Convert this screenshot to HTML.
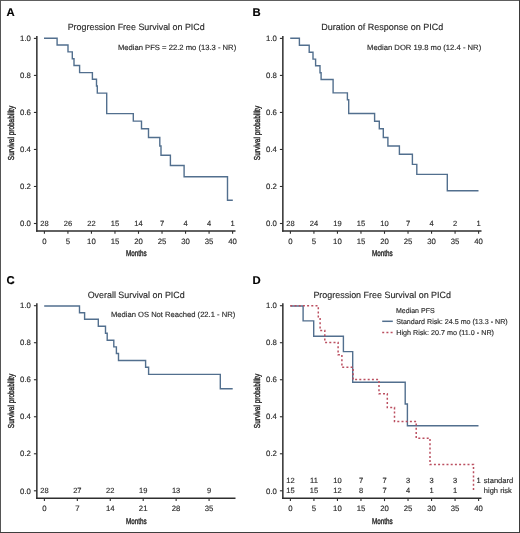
<!DOCTYPE html>
<html><head><meta charset="utf-8"><style>
html,body{margin:0;padding:0;background:#fff;}
body{width:520px;height:533px;overflow:hidden;}
svg{display:block;font-family:"Liberation Sans", sans-serif;will-change:transform;text-rendering:geometricPrecision;}
</style></head><body>
<svg width="520" height="533" viewBox="0 0 520 533">
<rect x="0" y="0" width="520" height="533" fill="#fff"/>
<text x="6.6" y="16.2" font-size="11.3" text-anchor="start" fill="#000" font-weight="bold" stroke="#000" stroke-width="0.15">A</text>
<text x="136.2" y="30.2" font-size="9.1" text-anchor="middle" fill="#2b2b2b" font-weight="normal" stroke="#2b2b2b" stroke-width="0.15" textLength="137" lengthAdjust="spacingAndGlyphs">Progression Free Survival on PICd</text>
<line x1="36.85" y1="36" x2="36.85" y2="231.7" stroke="#2e2e2e" stroke-width="1.5"/>
<line x1="36.1" y1="231" x2="235.5" y2="231" stroke="#2e2e2e" stroke-width="1.5"/>
<line x1="33.9" y1="38.4" x2="36.85" y2="38.4" stroke="#2e2e2e" stroke-width="1.1"/>
<text x="30.9" y="41.1" font-size="7.8" text-anchor="end" fill="#2b2b2b" font-weight="normal" stroke="#2b2b2b" stroke-width="0.15">1.0</text>
<line x1="33.9" y1="75.42" x2="36.85" y2="75.42" stroke="#2e2e2e" stroke-width="1.1"/>
<text x="30.9" y="78.12" font-size="7.8" text-anchor="end" fill="#2b2b2b" font-weight="normal" stroke="#2b2b2b" stroke-width="0.15">0.8</text>
<line x1="33.9" y1="112.44" x2="36.85" y2="112.44" stroke="#2e2e2e" stroke-width="1.1"/>
<text x="30.9" y="115.14" font-size="7.8" text-anchor="end" fill="#2b2b2b" font-weight="normal" stroke="#2b2b2b" stroke-width="0.15">0.6</text>
<line x1="33.9" y1="149.46" x2="36.85" y2="149.46" stroke="#2e2e2e" stroke-width="1.1"/>
<text x="30.9" y="152.16" font-size="7.8" text-anchor="end" fill="#2b2b2b" font-weight="normal" stroke="#2b2b2b" stroke-width="0.15">0.4</text>
<line x1="33.9" y1="186.48000000000002" x2="36.85" y2="186.48000000000002" stroke="#2e2e2e" stroke-width="1.1"/>
<text x="30.9" y="189.18" font-size="7.8" text-anchor="end" fill="#2b2b2b" font-weight="normal" stroke="#2b2b2b" stroke-width="0.15">0.2</text>
<line x1="33.9" y1="223.50000000000003" x2="36.85" y2="223.50000000000003" stroke="#2e2e2e" stroke-width="1.1"/>
<text x="30.9" y="226.20000000000002" font-size="7.8" text-anchor="end" fill="#2b2b2b" font-weight="normal" stroke="#2b2b2b" stroke-width="0.15">0.0</text>
<line x1="44.4" y1="231" x2="44.4" y2="233.8" stroke="#2e2e2e" stroke-width="1.1"/>
<text x="44.4" y="243.9" font-size="7.8" text-anchor="middle" fill="#2b2b2b" font-weight="normal" stroke="#2b2b2b" stroke-width="0.15">0</text>
<line x1="67.925" y1="231" x2="67.925" y2="233.8" stroke="#2e2e2e" stroke-width="1.1"/>
<text x="67.925" y="243.9" font-size="7.8" text-anchor="middle" fill="#2b2b2b" font-weight="normal" stroke="#2b2b2b" stroke-width="0.15">5</text>
<line x1="91.44999999999999" y1="231" x2="91.44999999999999" y2="233.8" stroke="#2e2e2e" stroke-width="1.1"/>
<text x="91.44999999999999" y="243.9" font-size="7.8" text-anchor="middle" fill="#2b2b2b" font-weight="normal" stroke="#2b2b2b" stroke-width="0.15">10</text>
<line x1="114.975" y1="231" x2="114.975" y2="233.8" stroke="#2e2e2e" stroke-width="1.1"/>
<text x="114.975" y="243.9" font-size="7.8" text-anchor="middle" fill="#2b2b2b" font-weight="normal" stroke="#2b2b2b" stroke-width="0.15">15</text>
<line x1="138.5" y1="231" x2="138.5" y2="233.8" stroke="#2e2e2e" stroke-width="1.1"/>
<text x="138.5" y="243.9" font-size="7.8" text-anchor="middle" fill="#2b2b2b" font-weight="normal" stroke="#2b2b2b" stroke-width="0.15">20</text>
<line x1="162.025" y1="231" x2="162.025" y2="233.8" stroke="#2e2e2e" stroke-width="1.1"/>
<text x="162.025" y="243.9" font-size="7.8" text-anchor="middle" fill="#2b2b2b" font-weight="normal" stroke="#2b2b2b" stroke-width="0.15">25</text>
<line x1="185.55" y1="231" x2="185.55" y2="233.8" stroke="#2e2e2e" stroke-width="1.1"/>
<text x="185.55" y="243.9" font-size="7.8" text-anchor="middle" fill="#2b2b2b" font-weight="normal" stroke="#2b2b2b" stroke-width="0.15">30</text>
<line x1="209.07500000000002" y1="231" x2="209.07500000000002" y2="233.8" stroke="#2e2e2e" stroke-width="1.1"/>
<text x="209.07500000000002" y="243.9" font-size="7.8" text-anchor="middle" fill="#2b2b2b" font-weight="normal" stroke="#2b2b2b" stroke-width="0.15">35</text>
<line x1="232.6" y1="231" x2="232.6" y2="233.8" stroke="#2e2e2e" stroke-width="1.1"/>
<text x="232.6" y="243.9" font-size="7.8" text-anchor="middle" fill="#2b2b2b" font-weight="normal" stroke="#2b2b2b" stroke-width="0.15">40</text>
<text x="44.4" y="225.8" font-size="7.5" text-anchor="middle" fill="#2b2b2b" font-weight="normal" stroke="#2b2b2b" stroke-width="0.15">28</text>
<text x="67.925" y="225.8" font-size="7.5" text-anchor="middle" fill="#2b2b2b" font-weight="normal" stroke="#2b2b2b" stroke-width="0.15">26</text>
<text x="91.44999999999999" y="225.8" font-size="7.5" text-anchor="middle" fill="#2b2b2b" font-weight="normal" stroke="#2b2b2b" stroke-width="0.15">22</text>
<text x="114.975" y="225.8" font-size="7.5" text-anchor="middle" fill="#2b2b2b" font-weight="normal" stroke="#2b2b2b" stroke-width="0.15">15</text>
<text x="138.5" y="225.8" font-size="7.5" text-anchor="middle" fill="#2b2b2b" font-weight="normal" stroke="#2b2b2b" stroke-width="0.15">14</text>
<text x="162.025" y="225.8" font-size="7.5" text-anchor="middle" fill="#2b2b2b" font-weight="normal" stroke="#2b2b2b" stroke-width="0.15">7</text>
<text x="185.55" y="225.8" font-size="7.5" text-anchor="middle" fill="#2b2b2b" font-weight="normal" stroke="#2b2b2b" stroke-width="0.15">4</text>
<text x="209.07500000000002" y="225.8" font-size="7.5" text-anchor="middle" fill="#2b2b2b" font-weight="normal" stroke="#2b2b2b" stroke-width="0.15">4</text>
<text x="232.6" y="225.8" font-size="7.5" text-anchor="middle" fill="#2b2b2b" font-weight="normal" stroke="#2b2b2b" stroke-width="0.15">1</text>
<text x="136.4" y="256.2" font-size="8.4" text-anchor="middle" fill="#2b2b2b" font-weight="normal" textLength="20.6" lengthAdjust="spacingAndGlyphs" stroke="#2b2b2b" stroke-width="0.4">Months</text>
<text x="0" y="0" font-size="8.6" text-anchor="middle" fill="#2b2b2b" stroke="#2b2b2b" stroke-width="0.42" textLength="54.3" lengthAdjust="spacingAndGlyphs" transform="translate(13.899999999999999,133.0) rotate(-90)">Survival probability</text>
<text x="252.6" y="16.2" font-size="11.3" text-anchor="start" fill="#000" font-weight="bold" stroke="#000" stroke-width="0.15">B</text>
<text x="382.2" y="30.2" font-size="9.1" text-anchor="middle" fill="#2b2b2b" font-weight="normal" stroke="#2b2b2b" stroke-width="0.15" textLength="122" lengthAdjust="spacingAndGlyphs">Duration of Response on PICd</text>
<line x1="282.85" y1="36" x2="282.85" y2="231.7" stroke="#2e2e2e" stroke-width="1.5"/>
<line x1="282.1" y1="231" x2="481.5" y2="231" stroke="#2e2e2e" stroke-width="1.5"/>
<line x1="279.9" y1="38.4" x2="282.85" y2="38.4" stroke="#2e2e2e" stroke-width="1.1"/>
<text x="276.9" y="41.1" font-size="7.8" text-anchor="end" fill="#2b2b2b" font-weight="normal" stroke="#2b2b2b" stroke-width="0.15">1.0</text>
<line x1="279.9" y1="75.42" x2="282.85" y2="75.42" stroke="#2e2e2e" stroke-width="1.1"/>
<text x="276.9" y="78.12" font-size="7.8" text-anchor="end" fill="#2b2b2b" font-weight="normal" stroke="#2b2b2b" stroke-width="0.15">0.8</text>
<line x1="279.9" y1="112.44" x2="282.85" y2="112.44" stroke="#2e2e2e" stroke-width="1.1"/>
<text x="276.9" y="115.14" font-size="7.8" text-anchor="end" fill="#2b2b2b" font-weight="normal" stroke="#2b2b2b" stroke-width="0.15">0.6</text>
<line x1="279.9" y1="149.46" x2="282.85" y2="149.46" stroke="#2e2e2e" stroke-width="1.1"/>
<text x="276.9" y="152.16" font-size="7.8" text-anchor="end" fill="#2b2b2b" font-weight="normal" stroke="#2b2b2b" stroke-width="0.15">0.4</text>
<line x1="279.9" y1="186.48000000000002" x2="282.85" y2="186.48000000000002" stroke="#2e2e2e" stroke-width="1.1"/>
<text x="276.9" y="189.18" font-size="7.8" text-anchor="end" fill="#2b2b2b" font-weight="normal" stroke="#2b2b2b" stroke-width="0.15">0.2</text>
<line x1="279.9" y1="223.50000000000003" x2="282.85" y2="223.50000000000003" stroke="#2e2e2e" stroke-width="1.1"/>
<text x="276.9" y="226.20000000000002" font-size="7.8" text-anchor="end" fill="#2b2b2b" font-weight="normal" stroke="#2b2b2b" stroke-width="0.15">0.0</text>
<line x1="290.4" y1="231" x2="290.4" y2="233.8" stroke="#2e2e2e" stroke-width="1.1"/>
<text x="290.4" y="243.9" font-size="7.8" text-anchor="middle" fill="#2b2b2b" font-weight="normal" stroke="#2b2b2b" stroke-width="0.15">0</text>
<line x1="313.925" y1="231" x2="313.925" y2="233.8" stroke="#2e2e2e" stroke-width="1.1"/>
<text x="313.925" y="243.9" font-size="7.8" text-anchor="middle" fill="#2b2b2b" font-weight="normal" stroke="#2b2b2b" stroke-width="0.15">5</text>
<line x1="337.45" y1="231" x2="337.45" y2="233.8" stroke="#2e2e2e" stroke-width="1.1"/>
<text x="337.45" y="243.9" font-size="7.8" text-anchor="middle" fill="#2b2b2b" font-weight="normal" stroke="#2b2b2b" stroke-width="0.15">10</text>
<line x1="360.975" y1="231" x2="360.975" y2="233.8" stroke="#2e2e2e" stroke-width="1.1"/>
<text x="360.975" y="243.9" font-size="7.8" text-anchor="middle" fill="#2b2b2b" font-weight="normal" stroke="#2b2b2b" stroke-width="0.15">15</text>
<line x1="384.5" y1="231" x2="384.5" y2="233.8" stroke="#2e2e2e" stroke-width="1.1"/>
<text x="384.5" y="243.9" font-size="7.8" text-anchor="middle" fill="#2b2b2b" font-weight="normal" stroke="#2b2b2b" stroke-width="0.15">20</text>
<line x1="408.025" y1="231" x2="408.025" y2="233.8" stroke="#2e2e2e" stroke-width="1.1"/>
<text x="408.025" y="243.9" font-size="7.8" text-anchor="middle" fill="#2b2b2b" font-weight="normal" stroke="#2b2b2b" stroke-width="0.15">25</text>
<line x1="431.55" y1="231" x2="431.55" y2="233.8" stroke="#2e2e2e" stroke-width="1.1"/>
<text x="431.55" y="243.9" font-size="7.8" text-anchor="middle" fill="#2b2b2b" font-weight="normal" stroke="#2b2b2b" stroke-width="0.15">30</text>
<line x1="455.07500000000005" y1="231" x2="455.07500000000005" y2="233.8" stroke="#2e2e2e" stroke-width="1.1"/>
<text x="455.07500000000005" y="243.9" font-size="7.8" text-anchor="middle" fill="#2b2b2b" font-weight="normal" stroke="#2b2b2b" stroke-width="0.15">35</text>
<line x1="478.6" y1="231" x2="478.6" y2="233.8" stroke="#2e2e2e" stroke-width="1.1"/>
<text x="478.6" y="243.9" font-size="7.8" text-anchor="middle" fill="#2b2b2b" font-weight="normal" stroke="#2b2b2b" stroke-width="0.15">40</text>
<text x="290.4" y="225.8" font-size="7.5" text-anchor="middle" fill="#2b2b2b" font-weight="normal" stroke="#2b2b2b" stroke-width="0.15">28</text>
<text x="313.925" y="225.8" font-size="7.5" text-anchor="middle" fill="#2b2b2b" font-weight="normal" stroke="#2b2b2b" stroke-width="0.15">24</text>
<text x="337.45" y="225.8" font-size="7.5" text-anchor="middle" fill="#2b2b2b" font-weight="normal" stroke="#2b2b2b" stroke-width="0.15">19</text>
<text x="360.975" y="225.8" font-size="7.5" text-anchor="middle" fill="#2b2b2b" font-weight="normal" stroke="#2b2b2b" stroke-width="0.15">15</text>
<text x="384.5" y="225.8" font-size="7.5" text-anchor="middle" fill="#2b2b2b" font-weight="normal" stroke="#2b2b2b" stroke-width="0.15">10</text>
<text x="408.025" y="225.8" font-size="7.5" text-anchor="middle" fill="#2b2b2b" font-weight="normal" stroke="#2b2b2b" stroke-width="0.15">7</text>
<text x="431.55" y="225.8" font-size="7.5" text-anchor="middle" fill="#2b2b2b" font-weight="normal" stroke="#2b2b2b" stroke-width="0.15">4</text>
<text x="455.07500000000005" y="225.8" font-size="7.5" text-anchor="middle" fill="#2b2b2b" font-weight="normal" stroke="#2b2b2b" stroke-width="0.15">2</text>
<text x="478.6" y="225.8" font-size="7.5" text-anchor="middle" fill="#2b2b2b" font-weight="normal" stroke="#2b2b2b" stroke-width="0.15">1</text>
<text x="382.4" y="256.2" font-size="8.4" text-anchor="middle" fill="#2b2b2b" font-weight="normal" textLength="20.6" lengthAdjust="spacingAndGlyphs" stroke="#2b2b2b" stroke-width="0.4">Months</text>
<text x="0" y="0" font-size="8.6" text-anchor="middle" fill="#2b2b2b" stroke="#2b2b2b" stroke-width="0.42" textLength="54.3" lengthAdjust="spacingAndGlyphs" transform="translate(259.9,133.0) rotate(-90)">Survival probability</text>
<text x="6.6" y="283.5" font-size="11.3" text-anchor="start" fill="#000" font-weight="bold" stroke="#000" stroke-width="0.15">C</text>
<text x="136.2" y="297.5" font-size="9.1" text-anchor="middle" fill="#2b2b2b" font-weight="normal" stroke="#2b2b2b" stroke-width="0.15" textLength="97" lengthAdjust="spacingAndGlyphs">Overall Survival on PICd</text>
<line x1="36.85" y1="303.3" x2="36.85" y2="499.0" stroke="#2e2e2e" stroke-width="1.5"/>
<line x1="36.1" y1="498.3" x2="235.5" y2="498.3" stroke="#2e2e2e" stroke-width="1.5"/>
<line x1="33.9" y1="305.7" x2="36.85" y2="305.7" stroke="#2e2e2e" stroke-width="1.1"/>
<text x="30.9" y="308.4" font-size="7.8" text-anchor="end" fill="#2b2b2b" font-weight="normal" stroke="#2b2b2b" stroke-width="0.15">1.0</text>
<line x1="33.9" y1="342.72" x2="36.85" y2="342.72" stroke="#2e2e2e" stroke-width="1.1"/>
<text x="30.9" y="345.42" font-size="7.8" text-anchor="end" fill="#2b2b2b" font-weight="normal" stroke="#2b2b2b" stroke-width="0.15">0.8</text>
<line x1="33.9" y1="379.74" x2="36.85" y2="379.74" stroke="#2e2e2e" stroke-width="1.1"/>
<text x="30.9" y="382.44" font-size="7.8" text-anchor="end" fill="#2b2b2b" font-weight="normal" stroke="#2b2b2b" stroke-width="0.15">0.6</text>
<line x1="33.9" y1="416.76" x2="36.85" y2="416.76" stroke="#2e2e2e" stroke-width="1.1"/>
<text x="30.9" y="419.46" font-size="7.8" text-anchor="end" fill="#2b2b2b" font-weight="normal" stroke="#2b2b2b" stroke-width="0.15">0.4</text>
<line x1="33.9" y1="453.78000000000003" x2="36.85" y2="453.78000000000003" stroke="#2e2e2e" stroke-width="1.1"/>
<text x="30.9" y="456.48" font-size="7.8" text-anchor="end" fill="#2b2b2b" font-weight="normal" stroke="#2b2b2b" stroke-width="0.15">0.2</text>
<line x1="33.9" y1="490.80000000000007" x2="36.85" y2="490.80000000000007" stroke="#2e2e2e" stroke-width="1.1"/>
<text x="30.9" y="493.50000000000006" font-size="7.8" text-anchor="end" fill="#2b2b2b" font-weight="normal" stroke="#2b2b2b" stroke-width="0.15">0.0</text>
<line x1="44.4" y1="498.3" x2="44.4" y2="501.1" stroke="#2e2e2e" stroke-width="1.1"/>
<text x="44.4" y="511.20000000000005" font-size="7.8" text-anchor="middle" fill="#2b2b2b" font-weight="normal" stroke="#2b2b2b" stroke-width="0.15">0</text>
<line x1="77.33500000000001" y1="498.3" x2="77.33500000000001" y2="501.1" stroke="#2e2e2e" stroke-width="1.1"/>
<text x="77.33500000000001" y="511.20000000000005" font-size="7.8" text-anchor="middle" fill="#2b2b2b" font-weight="normal" stroke="#2b2b2b" stroke-width="0.15">7</text>
<line x1="110.27000000000001" y1="498.3" x2="110.27000000000001" y2="501.1" stroke="#2e2e2e" stroke-width="1.1"/>
<text x="110.27000000000001" y="511.20000000000005" font-size="7.8" text-anchor="middle" fill="#2b2b2b" font-weight="normal" stroke="#2b2b2b" stroke-width="0.15">14</text>
<line x1="143.205" y1="498.3" x2="143.205" y2="501.1" stroke="#2e2e2e" stroke-width="1.1"/>
<text x="143.205" y="511.20000000000005" font-size="7.8" text-anchor="middle" fill="#2b2b2b" font-weight="normal" stroke="#2b2b2b" stroke-width="0.15">21</text>
<line x1="176.14000000000001" y1="498.3" x2="176.14000000000001" y2="501.1" stroke="#2e2e2e" stroke-width="1.1"/>
<text x="176.14000000000001" y="511.20000000000005" font-size="7.8" text-anchor="middle" fill="#2b2b2b" font-weight="normal" stroke="#2b2b2b" stroke-width="0.15">28</text>
<line x1="209.07500000000002" y1="498.3" x2="209.07500000000002" y2="501.1" stroke="#2e2e2e" stroke-width="1.1"/>
<text x="209.07500000000002" y="511.20000000000005" font-size="7.8" text-anchor="middle" fill="#2b2b2b" font-weight="normal" stroke="#2b2b2b" stroke-width="0.15">35</text>
<text x="44.4" y="493.1" font-size="7.5" text-anchor="middle" fill="#2b2b2b" font-weight="normal" stroke="#2b2b2b" stroke-width="0.15">28</text>
<text x="77.33500000000001" y="493.1" font-size="7.5" text-anchor="middle" fill="#2b2b2b" font-weight="normal" stroke="#2b2b2b" stroke-width="0.15">27</text>
<text x="110.27000000000001" y="493.1" font-size="7.5" text-anchor="middle" fill="#2b2b2b" font-weight="normal" stroke="#2b2b2b" stroke-width="0.15">22</text>
<text x="143.205" y="493.1" font-size="7.5" text-anchor="middle" fill="#2b2b2b" font-weight="normal" stroke="#2b2b2b" stroke-width="0.15">19</text>
<text x="176.14000000000001" y="493.1" font-size="7.5" text-anchor="middle" fill="#2b2b2b" font-weight="normal" stroke="#2b2b2b" stroke-width="0.15">13</text>
<text x="209.07500000000002" y="493.1" font-size="7.5" text-anchor="middle" fill="#2b2b2b" font-weight="normal" stroke="#2b2b2b" stroke-width="0.15">9</text>
<text x="136.4" y="523.5" font-size="8.4" text-anchor="middle" fill="#2b2b2b" font-weight="normal" textLength="20.6" lengthAdjust="spacingAndGlyphs" stroke="#2b2b2b" stroke-width="0.4">Months</text>
<text x="0" y="0" font-size="8.6" text-anchor="middle" fill="#2b2b2b" stroke="#2b2b2b" stroke-width="0.42" textLength="54.3" lengthAdjust="spacingAndGlyphs" transform="translate(13.899999999999999,401.0) rotate(-90)">Survival probability</text>
<text x="252.6" y="283.5" font-size="11.3" text-anchor="start" fill="#000" font-weight="bold" stroke="#000" stroke-width="0.15">D</text>
<text x="382.2" y="297.5" font-size="9.1" text-anchor="middle" fill="#2b2b2b" font-weight="normal" stroke="#2b2b2b" stroke-width="0.15" textLength="137.6" lengthAdjust="spacingAndGlyphs">Progression Free Survival on PICd</text>
<line x1="282.85" y1="303.3" x2="282.85" y2="499.0" stroke="#2e2e2e" stroke-width="1.5"/>
<line x1="282.1" y1="498.3" x2="481.5" y2="498.3" stroke="#2e2e2e" stroke-width="1.5"/>
<line x1="279.9" y1="305.7" x2="282.85" y2="305.7" stroke="#2e2e2e" stroke-width="1.1"/>
<text x="276.9" y="308.4" font-size="7.8" text-anchor="end" fill="#2b2b2b" font-weight="normal" stroke="#2b2b2b" stroke-width="0.15">1.0</text>
<line x1="279.9" y1="342.72" x2="282.85" y2="342.72" stroke="#2e2e2e" stroke-width="1.1"/>
<text x="276.9" y="345.42" font-size="7.8" text-anchor="end" fill="#2b2b2b" font-weight="normal" stroke="#2b2b2b" stroke-width="0.15">0.8</text>
<line x1="279.9" y1="379.74" x2="282.85" y2="379.74" stroke="#2e2e2e" stroke-width="1.1"/>
<text x="276.9" y="382.44" font-size="7.8" text-anchor="end" fill="#2b2b2b" font-weight="normal" stroke="#2b2b2b" stroke-width="0.15">0.6</text>
<line x1="279.9" y1="416.76" x2="282.85" y2="416.76" stroke="#2e2e2e" stroke-width="1.1"/>
<text x="276.9" y="419.46" font-size="7.8" text-anchor="end" fill="#2b2b2b" font-weight="normal" stroke="#2b2b2b" stroke-width="0.15">0.4</text>
<line x1="279.9" y1="453.78000000000003" x2="282.85" y2="453.78000000000003" stroke="#2e2e2e" stroke-width="1.1"/>
<text x="276.9" y="456.48" font-size="7.8" text-anchor="end" fill="#2b2b2b" font-weight="normal" stroke="#2b2b2b" stroke-width="0.15">0.2</text>
<line x1="279.9" y1="490.80000000000007" x2="282.85" y2="490.80000000000007" stroke="#2e2e2e" stroke-width="1.1"/>
<text x="276.9" y="493.50000000000006" font-size="7.8" text-anchor="end" fill="#2b2b2b" font-weight="normal" stroke="#2b2b2b" stroke-width="0.15">0.0</text>
<line x1="290.4" y1="498.3" x2="290.4" y2="501.1" stroke="#2e2e2e" stroke-width="1.1"/>
<text x="290.4" y="511.20000000000005" font-size="7.8" text-anchor="middle" fill="#2b2b2b" font-weight="normal" stroke="#2b2b2b" stroke-width="0.15">0</text>
<line x1="313.925" y1="498.3" x2="313.925" y2="501.1" stroke="#2e2e2e" stroke-width="1.1"/>
<text x="313.925" y="511.20000000000005" font-size="7.8" text-anchor="middle" fill="#2b2b2b" font-weight="normal" stroke="#2b2b2b" stroke-width="0.15">5</text>
<line x1="337.45" y1="498.3" x2="337.45" y2="501.1" stroke="#2e2e2e" stroke-width="1.1"/>
<text x="337.45" y="511.20000000000005" font-size="7.8" text-anchor="middle" fill="#2b2b2b" font-weight="normal" stroke="#2b2b2b" stroke-width="0.15">10</text>
<line x1="360.975" y1="498.3" x2="360.975" y2="501.1" stroke="#2e2e2e" stroke-width="1.1"/>
<text x="360.975" y="511.20000000000005" font-size="7.8" text-anchor="middle" fill="#2b2b2b" font-weight="normal" stroke="#2b2b2b" stroke-width="0.15">15</text>
<line x1="384.5" y1="498.3" x2="384.5" y2="501.1" stroke="#2e2e2e" stroke-width="1.1"/>
<text x="384.5" y="511.20000000000005" font-size="7.8" text-anchor="middle" fill="#2b2b2b" font-weight="normal" stroke="#2b2b2b" stroke-width="0.15">20</text>
<line x1="408.025" y1="498.3" x2="408.025" y2="501.1" stroke="#2e2e2e" stroke-width="1.1"/>
<text x="408.025" y="511.20000000000005" font-size="7.8" text-anchor="middle" fill="#2b2b2b" font-weight="normal" stroke="#2b2b2b" stroke-width="0.15">25</text>
<line x1="431.55" y1="498.3" x2="431.55" y2="501.1" stroke="#2e2e2e" stroke-width="1.1"/>
<text x="431.55" y="511.20000000000005" font-size="7.8" text-anchor="middle" fill="#2b2b2b" font-weight="normal" stroke="#2b2b2b" stroke-width="0.15">30</text>
<line x1="455.07500000000005" y1="498.3" x2="455.07500000000005" y2="501.1" stroke="#2e2e2e" stroke-width="1.1"/>
<text x="455.07500000000005" y="511.20000000000005" font-size="7.8" text-anchor="middle" fill="#2b2b2b" font-weight="normal" stroke="#2b2b2b" stroke-width="0.15">35</text>
<line x1="478.6" y1="498.3" x2="478.6" y2="501.1" stroke="#2e2e2e" stroke-width="1.1"/>
<text x="478.6" y="511.20000000000005" font-size="7.8" text-anchor="middle" fill="#2b2b2b" font-weight="normal" stroke="#2b2b2b" stroke-width="0.15">40</text>
<text x="290.4" y="483.0" font-size="7.5" text-anchor="middle" fill="#2b2b2b" font-weight="normal" stroke="#2b2b2b" stroke-width="0.15">12</text>
<text x="313.925" y="483.0" font-size="7.5" text-anchor="middle" fill="#2b2b2b" font-weight="normal" stroke="#2b2b2b" stroke-width="0.15">11</text>
<text x="337.45" y="483.0" font-size="7.5" text-anchor="middle" fill="#2b2b2b" font-weight="normal" stroke="#2b2b2b" stroke-width="0.15">10</text>
<text x="360.975" y="483.0" font-size="7.5" text-anchor="middle" fill="#2b2b2b" font-weight="normal" stroke="#2b2b2b" stroke-width="0.15">7</text>
<text x="384.5" y="483.0" font-size="7.5" text-anchor="middle" fill="#2b2b2b" font-weight="normal" stroke="#2b2b2b" stroke-width="0.15">7</text>
<text x="408.025" y="483.0" font-size="7.5" text-anchor="middle" fill="#2b2b2b" font-weight="normal" stroke="#2b2b2b" stroke-width="0.15">3</text>
<text x="431.55" y="483.0" font-size="7.5" text-anchor="middle" fill="#2b2b2b" font-weight="normal" stroke="#2b2b2b" stroke-width="0.15">3</text>
<text x="455.07500000000005" y="483.0" font-size="7.5" text-anchor="middle" fill="#2b2b2b" font-weight="normal" stroke="#2b2b2b" stroke-width="0.15">3</text>
<text x="478.6" y="483.0" font-size="7.5" text-anchor="middle" fill="#2b2b2b" font-weight="normal" stroke="#2b2b2b" stroke-width="0.15">1</text>
<text x="290.4" y="493.1" font-size="7.5" text-anchor="middle" fill="#2b2b2b" font-weight="normal" stroke="#2b2b2b" stroke-width="0.15">15</text>
<text x="313.925" y="493.1" font-size="7.5" text-anchor="middle" fill="#2b2b2b" font-weight="normal" stroke="#2b2b2b" stroke-width="0.15">15</text>
<text x="337.45" y="493.1" font-size="7.5" text-anchor="middle" fill="#2b2b2b" font-weight="normal" stroke="#2b2b2b" stroke-width="0.15">12</text>
<text x="360.975" y="493.1" font-size="7.5" text-anchor="middle" fill="#2b2b2b" font-weight="normal" stroke="#2b2b2b" stroke-width="0.15">8</text>
<text x="384.5" y="493.1" font-size="7.5" text-anchor="middle" fill="#2b2b2b" font-weight="normal" stroke="#2b2b2b" stroke-width="0.15">7</text>
<text x="408.025" y="493.1" font-size="7.5" text-anchor="middle" fill="#2b2b2b" font-weight="normal" stroke="#2b2b2b" stroke-width="0.15">4</text>
<text x="431.55" y="493.1" font-size="7.5" text-anchor="middle" fill="#2b2b2b" font-weight="normal" stroke="#2b2b2b" stroke-width="0.15">1</text>
<text x="455.07500000000005" y="493.1" font-size="7.5" text-anchor="middle" fill="#2b2b2b" font-weight="normal" stroke="#2b2b2b" stroke-width="0.15">1</text>
<text x="382.4" y="523.5" font-size="8.4" text-anchor="middle" fill="#2b2b2b" font-weight="normal" textLength="20.6" lengthAdjust="spacingAndGlyphs" stroke="#2b2b2b" stroke-width="0.4">Months</text>
<text x="0" y="0" font-size="8.6" text-anchor="middle" fill="#2b2b2b" stroke="#2b2b2b" stroke-width="0.42" textLength="54.3" lengthAdjust="spacingAndGlyphs" transform="translate(259.9,401.0) rotate(-90)">Survival probability</text>
<text x="236.2" y="49.9" font-size="7.6" text-anchor="end" fill="#2b2b2b" font-weight="normal" stroke="#2b2b2b" stroke-width="0.15" textLength="118.3" lengthAdjust="spacingAndGlyphs">Median PFS = 22.2 mo (13.3 - NR)</text>
<text x="481.2" y="49.5" font-size="7.6" text-anchor="end" fill="#2b2b2b" font-weight="normal" stroke="#2b2b2b" stroke-width="0.15" textLength="114.1" lengthAdjust="spacingAndGlyphs">Median DOR 19.8 mo (12.4 - NR)</text>
<text x="235.2" y="316.9" font-size="7.6" text-anchor="end" fill="#2b2b2b" font-weight="normal" stroke="#2b2b2b" stroke-width="0.15" textLength="124.2" lengthAdjust="spacingAndGlyphs">Median OS Not Reached (22.1 - NR)</text>
<text x="396.0" y="312.5" font-size="7.1" text-anchor="start" fill="#2b2b2b" font-weight="normal" stroke="#2b2b2b" stroke-width="0.15" textLength="38.6" lengthAdjust="spacingAndGlyphs">Median PFS</text>
<text x="396.2" y="323.8" font-size="7.1" text-anchor="start" fill="#2b2b2b" font-weight="normal" stroke="#2b2b2b" stroke-width="0.15" textLength="111.5" lengthAdjust="spacingAndGlyphs">Standard Risk: 24.5 mo (13.3 - NR)</text>
<text x="396.2" y="334.8" font-size="7.1" text-anchor="start" fill="#2b2b2b" font-weight="normal" stroke="#2b2b2b" stroke-width="0.15" textLength="97.8" lengthAdjust="spacingAndGlyphs">High Risk: 20.7 mo (11.0 - NR)</text>
<line x1="382.2" y1="321.3" x2="392.8" y2="321.3" stroke="#526f8e" stroke-width="1.5"/>
<line x1="382.2" y1="332.5" x2="392.8" y2="332.5" stroke="#bb4f60" stroke-width="1.5" stroke-dasharray="2,2.2"/>
<text x="483.8" y="483.0" font-size="7.5" text-anchor="start" fill="#2b2b2b" font-weight="normal" stroke="#2b2b2b" stroke-width="0.15" textLength="29.5" lengthAdjust="spacingAndGlyphs">standard</text>
<text x="483.8" y="493.1" font-size="7.5" text-anchor="start" fill="#2b2b2b" font-weight="normal" stroke="#2b2b2b" stroke-width="0.15" textLength="28.1" lengthAdjust="spacingAndGlyphs">high risk</text>
<path d="M44,38.3 H57.1 V45 H68 V51.9 H72.3 V58.8 H74 V65.5 H79.6 V72.6 H92.4 V79.3 H96.5 V86 H97.3 V93.1 H106.7 V113.6 H133.3 V121.1 H141.5 V128.7 H148.5 V137.5 H159.8 V146 H161 V155.3 H170.4 V165.5 H184.1 V176.8 H227.5 V200.2 H232.8" fill="none" stroke="#526f8e" stroke-width="1.4" stroke-linejoin="miter" stroke-linecap="butt"/>
<path d="M290.2,38.3 H299.4 V45.2 H309.2 V52.2 H313 V59.1 H315.6 V65.8 H320 V72.7 H321.1 V79.5 H333.1 V92.9 H347.4 V99.8 H348.7 V113.5 H374.6 V121.2 H379.3 V128.7 H383.3 V137.5 H387.9 V146 H399.4 V154.2 H412.4 V164.4 H416.8 V174.4 H447.3 V190.8 H478.5" fill="none" stroke="#526f8e" stroke-width="1.4" stroke-linejoin="miter" stroke-linecap="butt"/>
<path d="M44.2,306 H79.5 V312.7 H84.6 V319.3 H98.3 V326.3 H105.5 V333.3 H107.2 V340.2 H113.8 V346.9 H116.4 V353.5 H118.5 V360.5 H145.6 V367.2 H148.6 V374.4 H220.3 V388.8 H232.7" fill="none" stroke="#526f8e" stroke-width="1.4" stroke-linejoin="miter" stroke-linecap="butt"/>
<path d="M290.3,306 H303.1 V320.9 H313.7 V336.3 H343.4 V351.6 H352.7 V382.3 H405.2 V404 H407.4 V425.8 H478.5" fill="none" stroke="#526f8e" stroke-width="1.4" stroke-linejoin="miter" stroke-linecap="butt"/>
<path d="M290.3,305.8 H318.3 V317.6 H320.1 V330.5 H324.8 V342.4 H338.1 V354.8 H341.9 V367.3 H353.1 V379.6 H379 V393.7 H387.3 V407.5 H394.5 V421.4 H416.2 V438.2 H430 V464.6 H473.5 V490" fill="none" stroke="#bb4f60" stroke-width="1.5" stroke-linejoin="miter" stroke-linecap="butt" stroke-dasharray="2,2.2"/>
<rect x="0" y="0" width="520" height="1" fill="#5e5e5e"/>
<rect x="0" y="0" width="1" height="533" fill="#555"/>
<rect x="519" y="0" width="1" height="533" fill="#3a3a3a"/>
<rect x="0" y="532" width="520" height="1" fill="#3f3f3f"/>
</svg>
</body></html>
